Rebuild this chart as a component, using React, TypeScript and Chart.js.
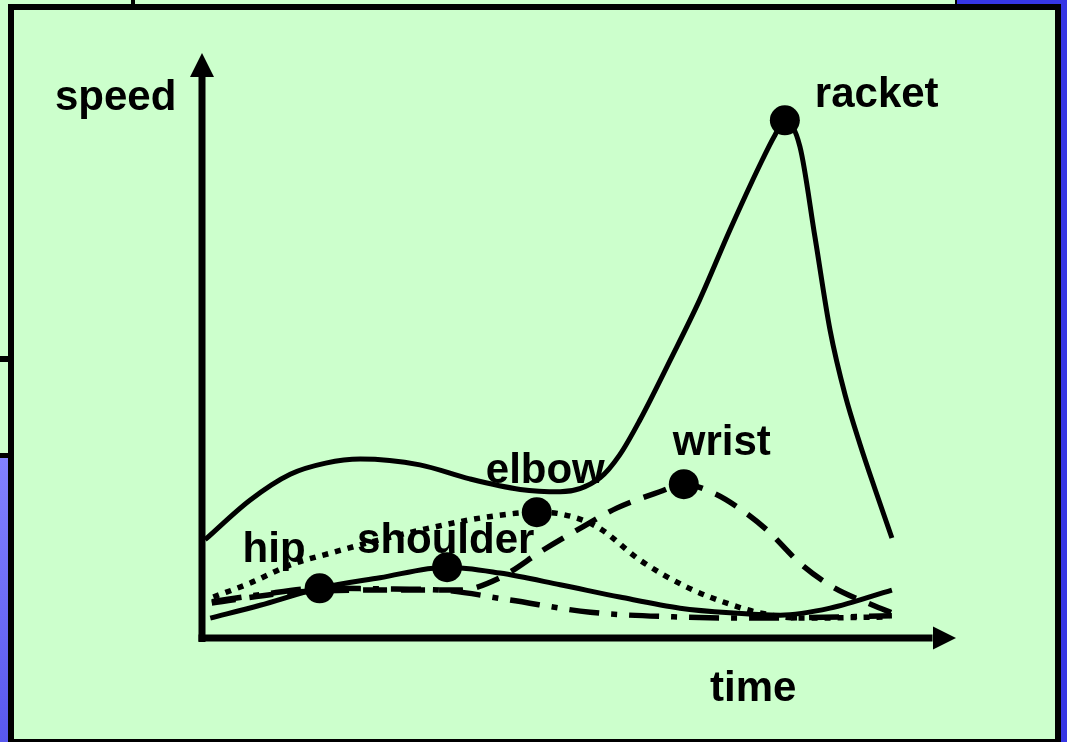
import React, { useEffect, useRef } from "react";
import { Chart, registerables } from "chart.js";

Chart.register(...registerables);

// ---- data (time / speed, arbitrary units 0..100) ----
const racketT = [0.4, 6.4, 11.7, 16.4, 21.0, 28.9, 35.5, 42.2, 47.5, 52.8, 55.4, 58.1, 62.1, 66.0, 70.0, 74.0, 76.0, 77.3, 79.3, 81.3, 83.3, 85.3, 87.3, 89.3, 91.5];
const racketV = [16.8, 23.6, 28.0, 29.9, 30.6, 29.6, 27.2, 25.4, 25.0, 27.4, 31.3, 37.3, 47.5, 57.8, 69.7, 80.9, 86.0, 88.5, 84.0, 68.5, 52.6, 41.5, 33.0, 25.3, 17.1];

const wristT = [1.3, 13.0, 26.3, 34.2, 39.5, 45.2, 50.5, 55.0, 60.7, 63.9, 67.8, 71.0, 74.9, 79.3, 83.7, 89.0, 91.5];
const wristV = [6.0, 7.9, 8.2, 8.2, 10.3, 15.0, 19.0, 22.2, 25.0, 26.3, 24.8, 22.4, 18.5, 12.8, 8.7, 5.6, 4.3];

const elbowT = [1.5, 6.4, 11.7, 17.0, 23.6, 30.2, 36.9, 44.4, 47.1, 52.4, 58.1, 64.3, 70.4, 74.0, 79.3, 91.2];
const elbowV = [7.0, 9.4, 12.5, 14.5, 16.8, 18.8, 20.5, 21.5, 21.3, 19.0, 13.3, 8.7, 5.6, 4.3, 3.4, 3.6];

const shoulderT = [1.1, 7.7, 15.6, 23.6, 32.5, 39.5, 47.5, 55.4, 63.4, 70.0, 76.7, 83.3, 91.5];
const shoulderV = [3.4, 5.6, 8.5, 10.3, 12.1, 11.1, 9.1, 7.0, 5.1, 4.3, 3.9, 5.1, 8.2];

const hipT = [1.3, 7.7, 15.6, 23.6, 31.6, 40.8, 51.5, 63.0, 74.0, 91.5];
const hipV = [6.2, 7.4, 8.5, 8.4, 8.2, 6.5, 4.4, 3.6, 3.4, 3.8];

// peak markers
const peakNames = ["hip", "shoulder", "elbow", "wrist", "racket"];
const peakT = [15.6, 32.5, 44.4, 63.9, 77.3];
const peakV = [8.5, 12.1, 21.5, 26.3, 88.5];

const yTitle = "speed";
const xTitle = "time";

// label offsets from the peak marker (px)
const labelOffsets: Record<string, [number, number]> = {
  hip: [-77, -26],
  shoulder: [-90, -14],
  elbow: [-51, -29],
  wrist: [-11, -29],
  racket: [30, -13],
};

const pts = (t: number[], v: number[]) => t.map((x, i) => ({ x, y: v[i] }));

const FONT = 'bold 42px "Liberation Sans", Arial, sans-serif';
const GREEN = "#CCFFCC";

const framePlugin = {
  id: "frame",
  beforeDatasetsDraw(chart: any) {
    const ctx = chart.ctx as CanvasRenderingContext2D;
    const W = chart.width;
    const H = chart.height;
    const a = chart.chartArea;
    ctx.save();
    ctx.fillStyle = GREEN;
    ctx.fillRect(0, 0, W, H);
    // left blue
    const g = ctx.createLinearGradient(0, 458, 0, H);
    g.addColorStop(0, "#8282FF");
    g.addColorStop(1, "#5858EE");
    ctx.fillStyle = g;
    ctx.fillRect(0, 458, 9, H - 458);
    // right blue
    ctx.fillStyle = "#3636E4";
    ctx.fillRect(957, 0, W - 957, 5);
    ctx.fillRect(1060, 0, W - 1060, H);
    ctx.fillStyle = "#000";
    ctx.fillRect(955, 0, 2, 5);
    ctx.fillRect(131, 0, 4, 5);
    ctx.fillRect(0, 356, 9, 6);
    ctx.fillRect(0, 453, 9, 5);
    // main box
    ctx.fillRect(8, 4, 1053, 6); // top
    ctx.fillRect(8, 4, 6, H - 4); // left
    ctx.fillRect(1055, 4, 6, H - 4); // right
    ctx.fillRect(8, 739, 1053, 3); // bottom

    // axes with arrows
    const x0 = a.left;
    const y0 = a.bottom;
    ctx.fillRect(x0 - 3.5, a.top + 20, 7, y0 - a.top - 16);
    ctx.beginPath();
    ctx.moveTo(x0, a.top);
    ctx.lineTo(x0 - 12, a.top + 24);
    ctx.lineTo(x0 + 12, a.top + 24);
    ctx.closePath();
    ctx.fill();
    ctx.fillRect(x0 - 3.5, y0 - 3.5, a.right - x0 - 20, 7);
    ctx.beginPath();
    ctx.moveTo(a.right, y0);
    ctx.lineTo(a.right - 23, y0 - 11.5);
    ctx.lineTo(a.right - 23, y0 + 11.5);
    ctx.closePath();
    ctx.fill();
    ctx.restore();
  },
  afterDatasetsDraw(chart: any) {
    const ctx = chart.ctx as CanvasRenderingContext2D;
    const a = chart.chartArea;
    const xs = chart.scales.x;
    const ys = chart.scales.y;
    ctx.save();
    ctx.fillStyle = "#000";
    ctx.font = FONT;
    ctx.textAlign = "left";
    ctx.textBaseline = "alphabetic";
    peakNames.forEach((n, i) => {
      const px = xs.getPixelForValue(peakT[i]);
      const py = ys.getPixelForValue(peakV[i]);
      const [dx, dy] = labelOffsets[n];
      ctx.fillText(n, px + dx, py + dy);
    });
    ctx.fillText(yTitle, a.left - 147, a.top + 57);
    ctx.fillText(xTitle, a.left + 508, a.bottom + 63);
    ctx.restore();
  },
};

const lineBase = {
  borderColor: "#000",
  borderWidth: 5.5,
  pointRadius: 0,
  fill: false,
  cubicInterpolationMode: "monotone" as const,
  borderCapStyle: "butt" as const,
  clip: false as const,
};

export default function App() {
  const ref = useRef<HTMLCanvasElement>(null);
  useEffect(() => {
    if (!ref.current) return;
    const chart = new Chart(ref.current, {
      type: "line",
      data: {
        datasets: [
          { ...lineBase, label: "racket", data: pts(racketT, racketV), borderWidth: 5 },
          { ...lineBase, label: "wrist", data: pts(wristT, wristV), borderDash: [24, 14] },
          { ...lineBase, label: "elbow", data: pts(elbowT, elbowV), borderDash: [6, 7] },
          { ...lineBase, label: "shoulder", data: pts(shoulderT, shoulderV), borderWidth: 5 },
          { ...lineBase, label: "hip", data: pts(hipT, hipV), borderDash: [30, 12, 6, 12] },
          {
            label: "peaks",
            data: pts(peakT, peakV),
            showLine: false,
            pointRadius: 15,
            pointBackgroundColor: "#000",
            pointBorderWidth: 0,
            borderColor: "#000",
            clip: false as const,
          },
        ],
      },
      options: {
        animation: false,
        responsive: false,
        devicePixelRatio: 1,
        events: [],
        layout: { padding: { left: 202, right: 111, top: 53, bottom: 104 } },
        scales: {
          x: { type: "linear", min: 0, max: 100, display: false },
          y: { type: "linear", min: 0, max: 100, display: false },
        },
        plugins: { legend: { display: false }, tooltip: { enabled: false } },
      },
      plugins: [framePlugin],
    });
    return () => chart.destroy();
  }, []);
  return (
    <div style={{ position: "fixed", left: 0, top: 0, width: 1067, height: 742 }}>
      <canvas ref={ref} width={1067} height={742} style={{ display: "block" }} />
    </div>
  );
}
